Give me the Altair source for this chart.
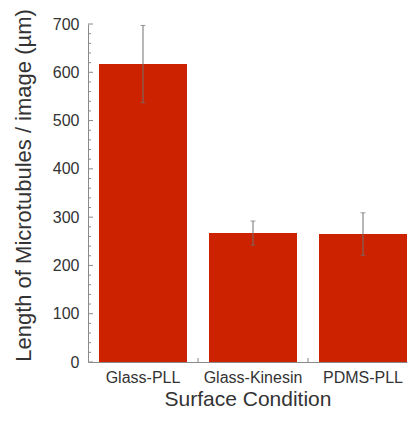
import altair as alt
import pandas as pd

categories = ["Glass-PLL", "Glass-Kinesin", "PDMS-PLL"]
means = [617, 267, 265]
errors = [80, 25, 44]

y_major = [0, 100, 200, 300, 400, 500, 600, 700]
y_minor = [20, 40, 60, 80, 120, 140, 160, 180, 220, 240, 260, 280,
           320, 340, 360, 380, 420, 440, 460, 480, 520, 540, 560, 580,
           620, 640, 660, 680]

df = pd.DataFrame({
    "cat": categories,
    "mean": means,
    "lo": [m - e for m, e in zip(means, errors)],
    "hi": [m + e for m, e in zip(means, errors)],
})
major_df = pd.DataFrame({"v": y_major})
minor_df = pd.DataFrame({"v": y_minor})
gap_df = pd.DataFrame({"cat": categories[1:]})

FONT = "Liberation Sans"
AX = "#8a8a8a"
ERR = "#707070"

xscale = alt.Scale(domain=categories, paddingInner=0.2, paddingOuter=0.05, align=1)
yscale = alt.Scale(domain=[0, 700], nice=False)

bars = alt.Chart(df).mark_bar(color="#cc2200").encode(
    x=alt.X("cat:N", sort=categories, scale=xscale, title="Surface Condition",
            axis=alt.Axis(labelAngle=0, ticks=False, domain=True, domainColor=AX,
                          labelFont=FONT, labelFontSize=16, labelColor="#333",
                          labelPadding=7, titleFont=FONT, titleFontSize=21,
                          titleFontWeight="normal", titleColor="#333", titlePadding=3)),
    y=alt.Y("mean:Q", scale=yscale, title="Length of Microtubules / image (µm)",
            axis=alt.Axis(values=y_major, ticks=False, grid=False, domainColor=AX,
                          labelFont=FONT, labelFontSize=16, labelColor="#333",
                          labelPadding=9, titleFont=FONT, titleFontSize=22,
                          titleFontWeight="normal", titleColor="#333",
                          titlePadding=17, titleY=161)),
)

err = alt.Chart(df).mark_rule(color=ERR, strokeWidth=1).encode(
    x=alt.X("cat:N", sort=categories, scale=xscale),
    y=alt.Y("lo:Q", scale=yscale),
    y2="hi:Q",
)
cap_hi = alt.Chart(df).mark_tick(color=ERR, size=5, thickness=1).encode(
    x=alt.X("cat:N", sort=categories, scale=xscale),
    y=alt.Y("hi:Q", scale=yscale),
)
cap_lo = alt.Chart(df).mark_tick(color=ERR, size=5, thickness=1).encode(
    x=alt.X("cat:N", sort=categories, scale=xscale),
    y=alt.Y("lo:Q", scale=yscale),
)

major_ticks = alt.Chart(major_df).mark_rule(color=AX, strokeWidth=1).encode(
    y=alt.Y("v:Q", scale=yscale),
    x=alt.value(0), x2=alt.value(5),
)
minor_ticks = alt.Chart(minor_df).mark_rule(color=AX, strokeWidth=1).encode(
    y=alt.Y("v:Q", scale=yscale),
    x=alt.value(0), x2=alt.value(3),
)
gap_ticks = alt.Chart(gap_df).mark_rule(color=AX, strokeWidth=1, xOffset=-11).encode(
    x=alt.X("cat:N", sort=categories, scale=xscale, bandPosition=0),
    y=alt.value(338), y2=alt.value(334),
)

chart = alt.layer(bars, err, cap_hi, cap_lo, major_ticks, minor_ticks, gap_ticks).properties(
    width=319, height=338,
    autosize=alt.AutoSizeParams(type="none"),
    padding={"left": 80, "top": 16, "right": 2, "bottom": 50},
    background="white",
).configure_view(stroke=None)

chart.save("out.html", embed_options={"renderer": "svg", "actions": False})
